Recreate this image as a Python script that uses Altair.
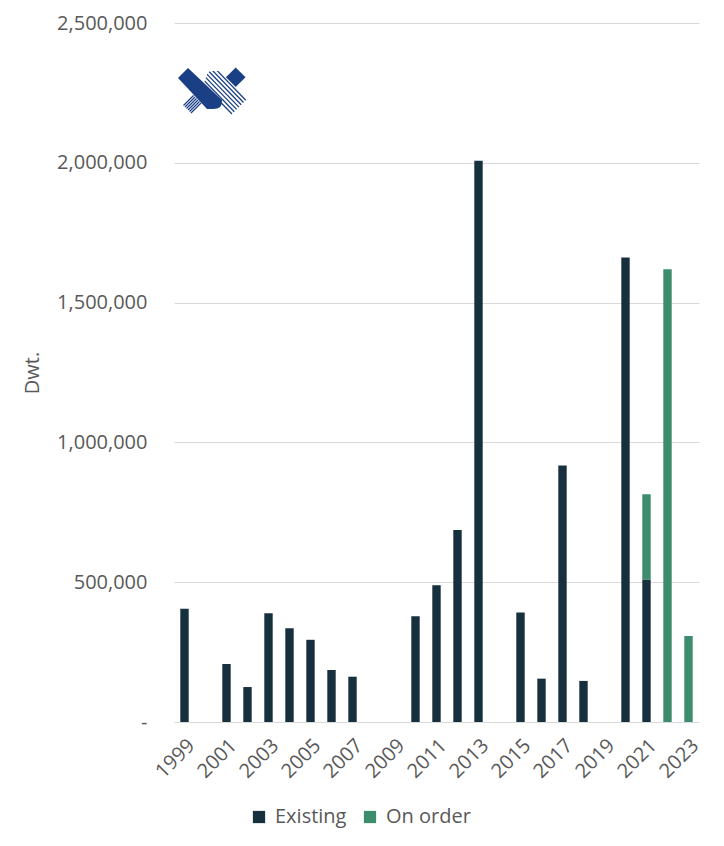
import base64
import altair as alt
import pandas as pd

years = [str(y) for y in range(1999, 2024)]
existing = [405000, 0, 207000, 125000, 389000, 335000, 294000, 186000, 162000,
            0, 0, 378000, 489000, 687000, 2007000, 0, 392000, 155000, 917000,
            147000, 0, 1661000, 510000, 0, 0]
on_order = [0, 0, 0, 0, 0, 0, 0, 0, 0, 0, 0, 0, 0, 0, 0, 0, 0, 0, 0, 0, 0, 0,
            305000, 1619000, 308000]
series = ["Existing", "On order"]
colors = ["#17303E", "#3D8C6E"]
y_ticks = [0, 500000, 1000000, 1500000, 2000000, 2500000]

rows = []
for y, e, o in zip(years, existing, on_order):
    rows.append({"Year": y, "Series": series[0], "Value": e, "Order": 0})
    rows.append({"Year": y, "Series": series[1], "Value": o, "Order": 1})
df = pd.DataFrame(rows)

FONT = "Open Sans"
GREY = "#595959"

bars = alt.Chart(df).mark_bar().encode(
    x=alt.X("Year:O", sort=years,
            scale=alt.Scale(paddingInner=0.6, paddingOuter=0.3),
            axis=alt.Axis(title=None, labelAngle=-45, ticks=False, domain=False,
                          labelExpr="toNumber(datum.value) % 2 == 1 ? datum.label : ''",
                          labelPadding=13)),
    y=alt.Y("Value:Q", stack="zero",
            scale=alt.Scale(domain=[0, 2500000]),
            axis=alt.Axis(title="Dwt.", values=y_ticks, ticks=False, domain=False,
                          labelExpr="datum.value == 0 ? '-\u00a0\u00a0' : format(datum.value, ',')",
                          labelPadding=27, titlePadding=14, gridColor="#D9D9D9")),
    color=alt.Color("Series:N", scale=alt.Scale(domain=series, range=colors),
                    legend=alt.Legend(title=None, orient="none", direction="horizontal",
                                      legendX=75, legendY=784, symbolType="square",
                                      symbolSize=150, symbolStrokeWidth=0,
                                      labelOffset=6, columnPadding=13, padding=0)),
    order=alt.Order("Order:Q"),
)

# logo as an inline SVG image
stripes_r = "".join(
    f'<line x1="{22+2.3*k:.1f}" y1="{14-2.3*k:.1f}" x2="{54+2.3*k:.1f}" y2="{47-2.3*k:.1f}"/>'
    for k in range(7))
stripes_l = "".join(
    f'<line x1="{(c-13)/2:.1f}" y1="{(c+13)/2:.1f}" x2="{max((c-13)/2-10,0.5):.1f}" y2="{(c+13)/2+min(10,(c-13)/2-0.5):.1f}"/>'
    for c in [44, 47, 50, 53, 56, 59])
svg = (
    '<svg xmlns="http://www.w3.org/2000/svg" width="68" height="50" viewBox="0 0 68 50">'
    '<defs><clipPath id="r"><polygon points="30,4 68,4 68,50 40,50 24,22"/></clipPath></defs>'
    '<g stroke="#1B3F85" stroke-width="1.3" clip-path="url(#r)">' + stripes_r + '</g>'
    '<g stroke="#1B3F85" stroke-width="1.3">' + stripes_l + '</g>'
    '<polygon fill="#1B3F85" points="57.7,0.5 67.5,10.3 57.7,20.1 47.9,10.3"/>'
    '<path fill="#1B3F85" d="M0,11 L10,1 L44,33 Q45,42 35,42 L29,42 Z"/>'
    '</svg>'
)
logo_url = "data:image/svg+xml;base64," + base64.b64encode(svg.encode()).decode()
logo = alt.Chart(pd.DataFrame({"u": [logo_url]})).mark_image(
    width=68, height=50).encode(
    url="u:N", x=alt.value(38), y=alt.value(69))

chart = alt.layer(bars, logo).properties(
    width=525, height=699,
    padding={"left": 14, "top": 5, "right": 5, "bottom": 5},
).configure_view(stroke=None).configure_axis(
    labelFont=FONT, titleFont=FONT, labelFontSize=20, titleFontSize=20,
    labelColor=GREY, titleColor=GREY, titleFontWeight="normal",
).configure_legend(
    labelFont=FONT, labelFontSize=20, labelColor=GREY,
)

chart.save("out.html", embed_options={"renderer": "svg", "actions": False})
